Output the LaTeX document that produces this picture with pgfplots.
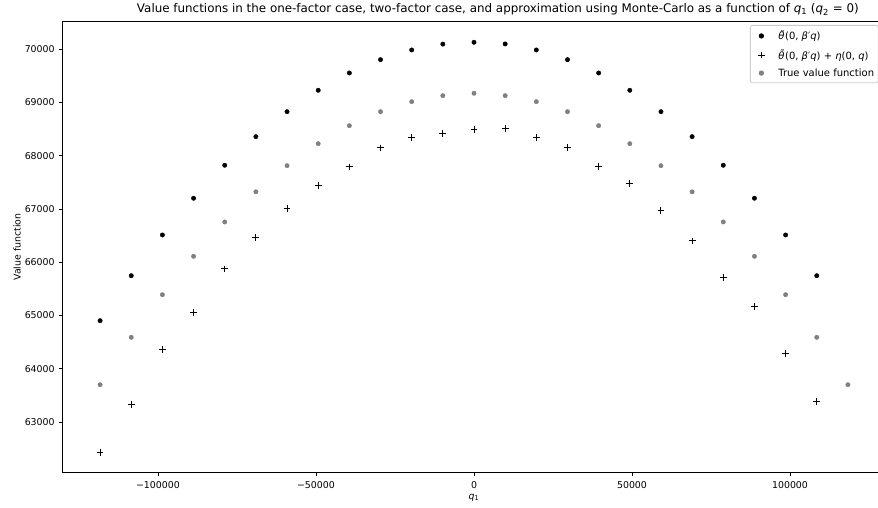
\documentclass[border=0pt]{standalone}
\usepackage{fontspec}
\setmainfont{DejaVu Sans}
\usepackage{pgfplots}
\pgfplotsset{compat=1.18}
\definecolor{mplgray}{HTML}{808080}
\definecolor{legframe}{HTML}{CCCCCC}
\pgfplotsset{
  mylegimg/.style={legend image code/.code={%
    \pgfpathrectangle{\pgfpoint{0pt}{-2pt}}{\pgfpoint{24pt}{4pt}}\pgfusepath{use as bounding box}%
    \draw[##1,/tikz/only marks] plot coordinates {(9pt,0pt)};}},
}

\pgfplotstableread{
x y
-118320 64903
-108460 65748
-98600 66513
-88740 67202
-78880 67822
-69020 68359
-59160 68828
-49300 69230
-39440 69555
-29580 69805
-19720 69987
-9860 70097
0 70131
9860 70100
19720 69987
29580 69805
39440 69555
49300 69230
59160 68828
69020 68359
78880 67822
88740 67202
98600 66513
108460 65748
}\onefactor

\pgfplotstableread{
x y
-118320 62424
-108460 63333
-98600 64359
-88740 65053
-78880 65874
-69020 66469
-59160 67007
-49300 67446
-39440 67790
-29580 68146
-19720 68340
-9860 68422
0 68500
9860 68509
19720 68340
29580 68160
39440 67795
49300 67483
59160 66970
69020 66400
78880 65711
88740 65174
98600 64291
108460 63389
}\twofactor

\pgfplotstableread{
x y
-118320 63701
-108460 64591
-98600 65391
-88740 66112
-78880 66757
-69020 67323
-59160 67814
-49300 68227
-39440 68565
-29580 68828
-19720 69016
-9860 69129
0 69174
9860 69129
19720 69016
29580 68828
39440 68565
49300 68227
59160 67814
69020 67323
78880 66757
88740 66112
98600 65391
108460 64591
118320 63701
}\truevalue

\begin{document}
\begin{tikzpicture}
\begin{axis}[
  scale only axis,
  width=822.6pt, height=450.8pt,
  xmin=-130152, xmax=130152,
  ymin=62052, ymax=70518,
  xtick={-100000,-50000,0,50000,100000},
  xticklabels={−100000,−50000,0,50000,100000},
  ytick={63000,64000,65000,66000,67000,68000,69000,70000},
  yticklabels={63000,64000,65000,66000,67000,68000,69000,70000},
  scaled ticks=false,
  tick align=outside,
  tick pos=left,
  major tick length=3.5pt,
  tick style={black, line width=0.8pt},
  axis line style={black, line width=0.8pt},
  ticklabel style={font=\fontsize{9.4}{11}\selectfont},
  xticklabel style={yshift=-2pt},
  yticklabel style={xshift=-1pt},
  xlabel={\textit{q}\textsubscript{1}},
  xlabel style={at={(axis description cs:0.5,0)}, anchor=center, yshift=-25pt, font=\fontsize{9.4}{11}\selectfont},
  ylabel={Value function},
  ylabel style={at={(axis description cs:0,0.5)}, anchor=center, yshift=45.7pt, font=\fontsize{9.4}{11}\selectfont},
  every axis title shift=0pt,
  title={Value functions in the one-factor case, two-factor case, and approximation using Monte-Carlo as a function of \textit{q}\textsubscript{1} (\textit{q}\textsubscript{2} = 0)},
  title style={at={(axis description cs:0.529,1)}, anchor=base, yshift=8.7pt, font=\fontsize{11.9}{13}\selectfont, inner sep=0pt},
  legend style={at={(axis description cs:0.8355,0.9927)}, anchor=north west,
    draw=legframe, line width=0.8pt, rounded corners=2pt, fill=white,
    font=\fontsize{10}{12}\selectfont, inner xsep=2pt, inner ysep=3pt, row sep=4pt},
  legend cell align=left,
]
\addplot[only marks, mark=*, mark size=2.2pt, draw=black, fill=black, mylegimg] table[x=x,y=y] {\onefactor};
\addlegendentry{\textit{θ̃}(0, \textit{β}′\textit{q})}
\addplot[only marks, mark=+, mark size=3.4pt, black, line width=1pt, mylegimg] table[x=x,y=y] {\twofactor};
\addlegendentry{\textit{θ̃}(0, \textit{β}′\textit{q}) + \textit{η}(0, \textit{q})}
\addplot[only marks, mark=*, mark size=2.2pt, draw=mplgray, fill=mplgray, mylegimg] table[x=x,y=y] {\truevalue};
\addlegendentry{True value function}
\end{axis}
\pgfresetboundingbox
\path ([shift={(-62.7pt,-35.5pt)}]current axis.south west) rectangle ([shift={(-7.3pt,21.7pt)}]current axis.north east);
\end{tikzpicture}
\end{document}
